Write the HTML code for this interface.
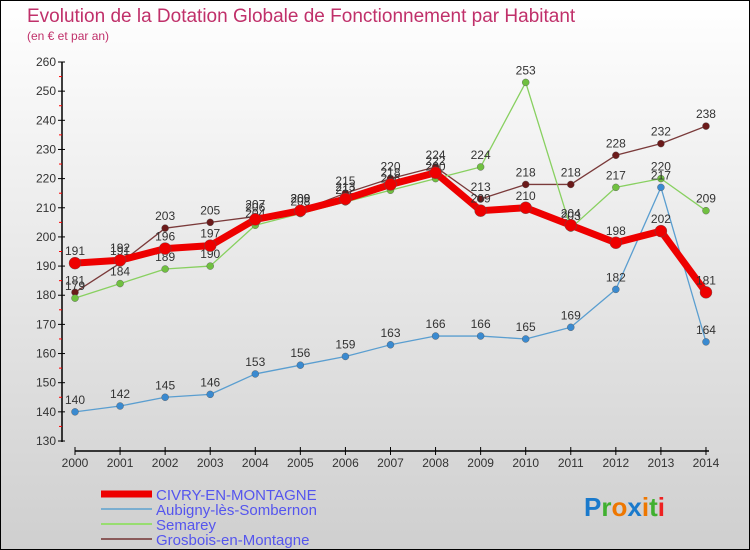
<!DOCTYPE html>
<html><head><meta charset="utf-8"><style>
body{margin:0}
#c{width:748px;height:548px;border:1px solid #000;background:linear-gradient(#fff,#cfcfcf);position:relative;font-family:"Liberation Sans",sans-serif;overflow:hidden}
</style></head><body>
<div id="c">
<svg id="s" width="748" height="548">
<text x="26" y="21" font-size="19" fill="#c0306a">Evolution de la Dotation Globale de Fonctionnement par Habitant</text>
<text x="26" y="39" font-size="12" fill="#c0306a">(en € et par an)</text>
</svg>
</div>
<script>
const years=[2000,2001,2002,2003,2004,2005,2006,2007,2008,2009,2010,2011,2012,2013,2014];
const civry=[191,192,196,197,206,209,213,218,222,209,210,204,198,202,181];
const aubigny=[140,142,145,146,153,156,159,163,166,166,165,169,182,217,164];
const semarey=[179,184,189,190,204,208,212,216,220,224,253,203,217,220,209];
const grosbois=[181,191,203,205,207,209,215,220,224,213,218,218,228,232,238];
const yTicks=[130,140,150,160,170,180,190,200,210,220,230,240,250,260];
const names=["CIVRY-EN-MONTAGNE","Aubigny-lès-Sombernon","Semarey","Grosbois-en-Montagne"];
const s=document.getElementById('s');const NS='http://www.w3.org/2000/svg';
function X(i){return 74+i*45.07;}
function Y(v){return 440-(v-130)*(379/130);}
function el(t,a,p){const e=document.createElementNS(NS,t);for(const k in a)e.setAttribute(k,a[k]);(p||s).appendChild(e);return e;}
let ax=el('line',{x1:61,y1:61,x2:61,y2:441,stroke:'#000','stroke-width':1.5});

let bx=el('line',{x1:74,y1:450,x2:708,y2:450,stroke:'#000','stroke-width':1.5});

yTicks.forEach((v,k)=>{el('line',{x1:57,y1:Y(v),x2:64,y2:Y(v),stroke:'#000'});
 if(k<yTicks.length-1)el('line',{x1:58,y1:Y(v+5),x2:61,y2:Y(v+5),stroke:'red'});
 const t=el('text',{x:55,y:Y(v)+4,'font-size':12,fill:'#333','text-anchor':'end'});t.textContent=v;
 });
years.forEach((y,i)=>{el('line',{x1:X(i),y1:446,x2:X(i),y2:454,stroke:'#000'});
 const t=el('text',{x:X(i),y:466,'font-size':12,fill:'#333','text-anchor':'middle'});t.textContent=y;
 });
const series=[[grosbois,'#7a3a3a','#6b1a1a',1.3,3.5,'grosbois'],[semarey,'#88d060','#70c040',1.3,3.5,'semarey'],[aubigny,'#5a9ed0','#3a8ad0',1.3,3.5,'aubigny'],[civry,'#ee0000','#ee0000',7,6,'civry']];
series.forEach(([d,c,pc,w,r,n])=>{
 const g=el('g',{});
 el('polyline',{points:d.map((v,i)=>X(i)+','+Y(v)).join(' '),fill:'none',stroke:c,'stroke-width':w,'stroke-linejoin':'round'},g);
 d.forEach((v,i)=>{const p=el('circle',{cx:X(i),cy:Y(v),r:r,fill:pc,stroke:'#555','stroke-width':0.4},g);
  
  const t=el('text',{x:X(i),y:Y(v)-8,'font-size':12,fill:'#333','text-anchor':'middle'},g);t.textContent=v;});
});
const lc=[['#ee0000',7],['#7aaed0',2],['#98dd70',2],['#8a5a5a',2]];
names.forEach((n,k)=>{const y=493+k*15;
 const l=el('line',{x1:100,y1:y,x2:151,y2:y,stroke:lc[k][0],'stroke-width':lc[k][1]});
 
 const t=el('text',{x:155,y:y+6,'font-size':15,fill:'#5555ee'});t.textContent=n;
 });
const lg=el('text',{x:583,y:515,'font-size':26,'font-weight':'bold'});
[['P','#1a7acc'],['r','#40b030'],['o','#ee7700'],['x','#1a7acc'],['i','#ee7700'],['t','#40b030'],['i','#ee2222']].forEach(([ch,c])=>{el('tspan',{fill:c},lg).textContent=ch;});
</script>
</body></html>
